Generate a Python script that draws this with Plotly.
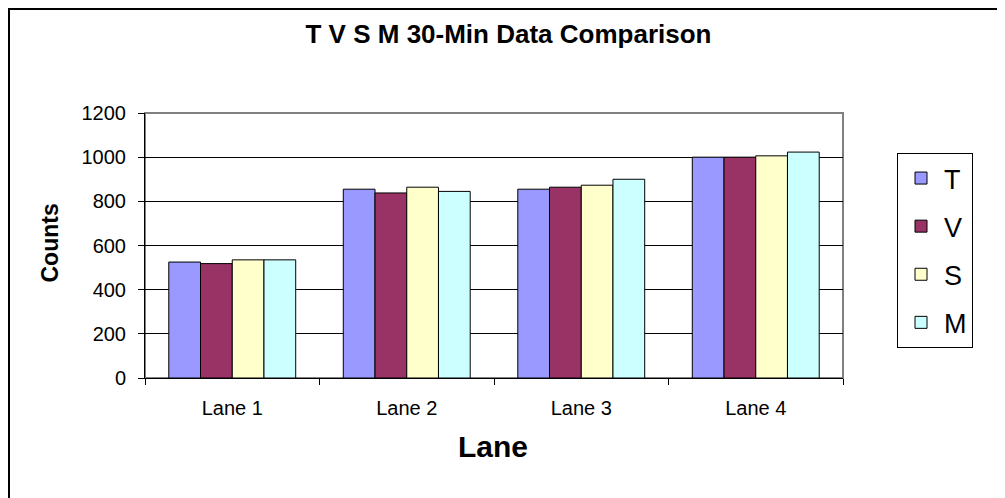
import plotly.graph_objects as go

lanes = ["Lane 1", "Lane 2", "Lane 3", "Lane 4"]
series_names = ["T", "V", "S", "M"]
t_vals = [525, 855, 855, 1000]
v_vals = [518, 838, 864, 1000]
s_vals = [535, 864, 873, 1006]
m_vals = [535, 845, 900, 1023]
colors = ["#9999FF", "#993366", "#FFFFCC", "#CCFFFF"]
y_ticks = [0, 200, 400, 600, 800, 1000, 1200]

FONT = "Arial, Liberation Sans, sans-serif"

fig = go.Figure()
for name, vals, col in zip(series_names, [t_vals, v_vals, s_vals, m_vals], colors):
    fig.add_trace(go.Bar(
        x=lanes, y=vals, name=name, legendgroup=name,
        marker=dict(color=col, line=dict(color="#000000", width=1)),
    ))

OFF = 8  # page body margin offset
W, H = 1005, 498
# plot area in reference pixels: x 145..843, y 113..378
L = 145 - OFF
T = 113 - OFF
R = W - (843 - OFF)
B = H - (378 - OFF)
pw, ph = W - L - R, H - T - B

def px_x(p):
    return (p - OFF - L) / pw

def px_y(p):
    return (H - B - (p - OFF)) / ph

fig.update_layout(
    width=W, height=H,
    margin=dict(l=L, r=R, t=T, b=B, autoexpand=False),
    paper_bgcolor="white", plot_bgcolor="white",
    barmode="group", bargap=0.2727, bargroupgap=0,
    font=dict(family=FONT, color="black"),
    title=dict(text="<b>T V S M 30-Min Data Comparison</b>",
               x=(508.5 - OFF) / W, xref="container", xanchor="center",
               y=1 - (34 - OFF) / H, yref="container", yanchor="middle",
               font=dict(size=26, family=FONT, color="black")),
    legend=dict(x=px_x(897), y=px_y(153), xanchor="left", yanchor="top",
                bordercolor="black", borderwidth=1, bgcolor="white",
                font=dict(size=27, family=FONT, color="black"),
                tracegroupgap=10, traceorder="grouped",
                itemwidth=36),
    showlegend=True,
)

fig.update_xaxes(
    type="category", showline=True, linecolor="black", linewidth=1,
    ticks="outside", tickson="boundaries", ticklen=6, tickcolor="black",
    tickfont=dict(size=20, family=FONT, color="black"),
    ticklabelstandoff=12, showgrid=False, zeroline=False,
)
fig.update_yaxes(
    range=[0, 1200], tickvals=y_ticks, showline=True, linecolor="black", linewidth=1,
    ticks="outside", ticklen=6, tickcolor="black",
    tickfont=dict(size=20, family=FONT, color="black"),
    ticklabelstandoff=8,
    showgrid=True, gridcolor="black", gridwidth=1, zeroline=False,
)

# plot area border (grey, top/right visible)
fig.add_shape(type="rect", xref="paper", yref="paper", x0=0, x1=1, y0=0, y1=1,
              line=dict(color="#808080", width=2), layer="below")
# outer chart border (left and top edges visible)
fig.add_shape(type="rect", xref="paper", yref="paper",
              x0=px_x(OFF + 1), x1=px_x(1040), y0=px_y(530), y1=px_y(OFF + 1),
              line=dict(color="black", width=2), layer="below")

fig.add_annotation(text="<b>Lane</b>", xref="paper", yref="paper",
                   x=px_x(493), y=px_y(446), xanchor="center", yanchor="middle",
                   showarrow=False, font=dict(size=30, family=FONT, color="black"))
fig.add_annotation(text="<b>Counts</b>", xref="paper", yref="paper",
                   x=px_x(49), y=px_y(243.5), xanchor="center", yanchor="middle",
                   textangle=-90, showarrow=False,
                   font=dict(size=23, family=FONT, color="black"))

fig.write_html("out.html")
